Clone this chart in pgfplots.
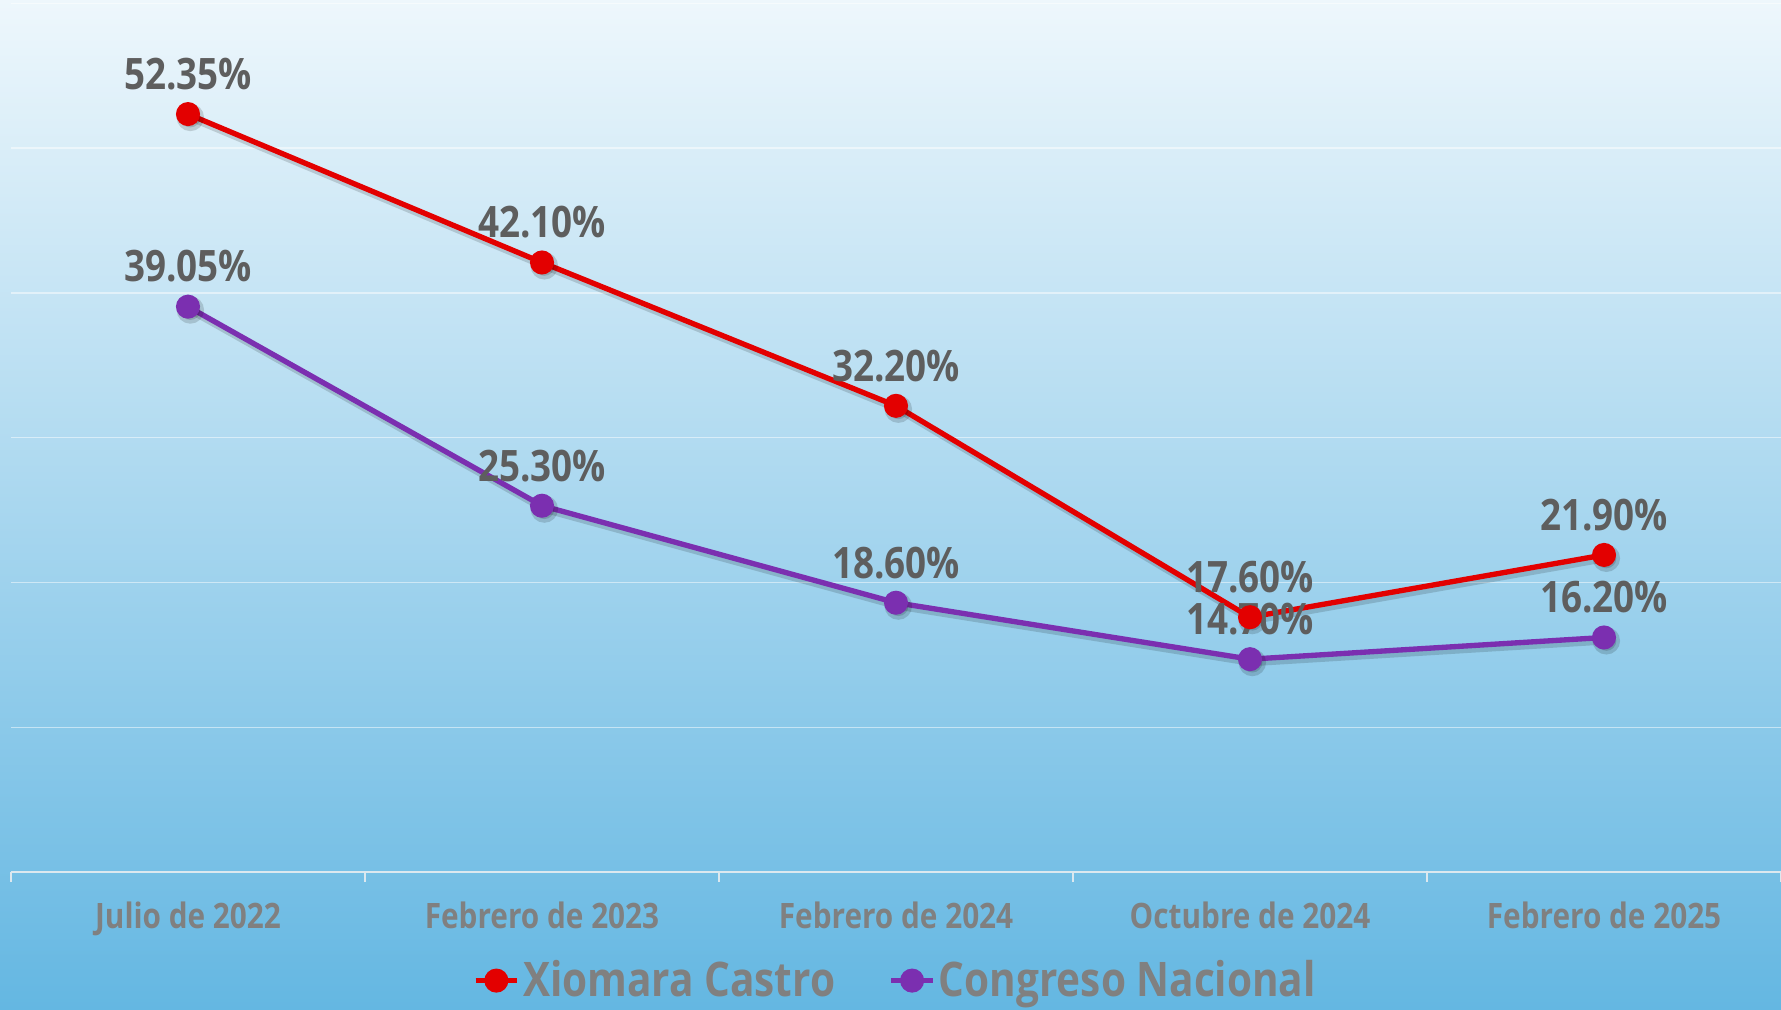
\documentclass[border=0pt]{standalone}
\usepackage{pgfplots}
\pgfplotsset{compat=1.18}
\usepackage{fontspec}
\setmainfont{Open Sans}[FakeStretch=0.85]
\definecolor{xred}{HTML}{E30000}
\definecolor{cnpurple}{HTML}{7B2FB0}
\definecolor{lblgray}{HTML}{5E5E5E}
\definecolor{tickgray}{HTML}{808080}
\definecolor{bgtop}{HTML}{EEF7FC}
\definecolor{bgbot}{HTML}{64B7E2}
\definecolor{axline}{HTML}{DCE8EF}

\pgfplotstableread{
x  castro congreso
0  52.35  39.05
1  42.10  25.30
2  32.20  18.60
3  17.60  14.70
4  21.90  16.20
}\datatable

\begin{document}
\begin{tikzpicture}
\useasboundingbox (0,0) rectangle (534.3pt,302.7pt);
\shade[top color=bgtop, bottom color=bgbot] (0,0) rectangle (534.3pt,302.7pt);
\begin{axis}[
    at={(3.3pt,41.1pt)}, anchor=south west,
    scale only axis, width=531pt, height=260.6pt,
    xmin=-0.5, xmax=4.5, ymin=0, ymax=60,
    clip=false,
    axis x line*=bottom, axis y line*=left,
    y axis line style={draw=none},
    x axis line style={draw=axline, line width=0.7pt},
    ytick={10,20,...,60}, yticklabels={},
    ytick style={draw=none},
    ymajorgrids, grid style={white, opacity=0.5, line width=0.4pt},
    xtick={0,...,4},
    xticklabels={Julio de 2022, Febrero de 2023, Febrero de 2024, Octubre de 2024, Febrero de 2025},
    minor xtick={-0.5,0.5,...,4.5},
    major tick length=0pt, minor tick length=3pt, tick align=outside,
    minor tick style={draw=axline, line width=0.6pt},
    xticklabel style={font=\fontsize{10.5}{12}\selectfont\bfseries, text=tickgray, yshift=-5.5pt},
    /pgf/number format/assume math mode=true,
    legend style={at={(0.5,-0.125)}, anchor=center, legend columns=2, draw=none, fill=none,
        font=\fontsize{14.3}{16}\selectfont\bfseries, text=tickgray,
        /tikz/every even column/.append style={column sep=15pt},
        nodes={inner xsep=1pt}},
    legend image code/.code={\draw[mark repeat=2, mark phase=2] plot coordinates {(0cm,0cm) (0.22cm,0cm) (0.44cm,0cm)};},
]
% shadows
\addplot[forget plot, black, opacity=0.15, line width=2.2pt, mark=*, mark size=3pt, xshift=0.7pt, yshift=-1pt] table[x=x, y=castro] {\datatable};
\addplot[forget plot, black, opacity=0.15, line width=2.2pt, mark=*, mark size=3pt, xshift=0.7pt, yshift=-1pt] table[x=x, y=congreso] {\datatable};
% value labels
\addplot[forget plot, draw=none, nodes near coords={\pgfmathprintnumber[fixed, fixed zerofill, precision=2]{\pgfplotspointmeta}\%},
    every node near coord/.append style={font=\fontsize{13}{15}\selectfont\bfseries, text=lblgray, anchor=south, yshift=3.7pt}]
    table[x=x, y=castro] {\datatable};
\addplot[forget plot, draw=none, nodes near coords={\pgfmathprintnumber[fixed, fixed zerofill, precision=2]{\pgfplotspointmeta}\%},
    every node near coord/.append style={font=\fontsize{13}{15}\selectfont\bfseries, text=lblgray, anchor=south, yshift=3.7pt}]
    table[x=x, y=congreso] {\datatable};
% lines
\addplot[xred, line width=1.6pt, mark=*, mark size=2.8pt] table[x=x, y=castro] {\datatable};
\addlegendentry{Xiomara Castro}
\addplot[cnpurple, line width=1.6pt, mark=*, mark size=2.8pt] table[x=x, y=congreso] {\datatable};
\addlegendentry{Congreso Nacional}
\end{axis}
\end{tikzpicture}
\end{document}
